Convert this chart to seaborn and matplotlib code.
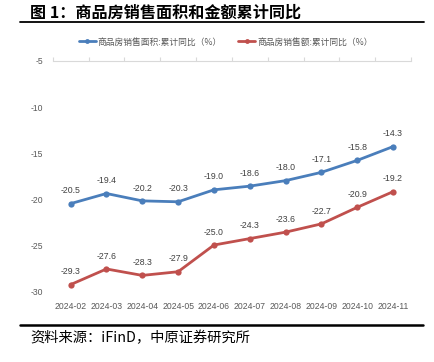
import pandas as pd
import matplotlib.pyplot as plt
import seaborn as sns

months = ['2024-02', '2024-03', '2024-04', '2024-05', '2024-06',
          '2024-07', '2024-08', '2024-09', '2024-10', '2024-11']
area_yoy = [-20.5, -19.4, -20.2, -20.3, -19.0, -18.6, -18.0, -17.1, -15.8, -14.3]
sales_yoy = [-29.3, -27.6, -28.3, -27.9, -25.0, -24.3, -23.6, -22.7, -20.9, -19.2]
series_names = ['商品房销售面积:累计同比（%）', '商品房销售额:累计同比（%）']
colors = ['#4A7EBB', '#C0504D']

NUM_FONT = ['Liberation Sans', 'DejaVu Sans']


def main():
    df = pd.DataFrame({
        'month': months * 2,
        'x': list(range(len(months))) * 2,
        'value': area_yoy + sales_yoy,
        'series': [series_names[0]] * len(months) + [series_names[1]] * len(months),
    })

    sns.set_theme(style="white")
    plt.rcParams['font.family'] = ['Noto Sans CJK SC', 'DejaVu Sans']

    fig = plt.figure(figsize=(4.34, 3.62), dpi=100)
    ax = fig.add_axes([0.1214, 0.196, 0.8256, 0.6355])

    sns.lineplot(data=df, x='x', y='value', hue='series', palette=colors,
                 marker='o', markersize=4.5, markeredgewidth=0, linewidth=2,
                 ax=ax, legend=False)

    # data labels
    for vals in [area_yoy, sales_yoy]:
        for i, v in enumerate(vals):
            ax.annotate(f'{v:.1f}', (i, v), xytext=(0, 6), textcoords='offset points',
                        ha='center', va='bottom', fontsize=6.3, color='#404040',
                        family=NUM_FONT)

    ax.set_xlim(-0.5, len(months) - 0.5)
    ax.set_ylim(-30, -5)
    ax.set_yticks([-30, -25, -20, -15, -10, -5])
    ax.set_yticklabels(['-30', '-25', '-20', '-15', '-10', '-5'])
    ax.set_xticks(range(len(months)))
    ax.set_xticklabels(months)
    ax.tick_params(axis='both', labelsize=6.2, labelcolor='#595959', length=0)
    ax.tick_params(axis='x', pad=8)
    ax.tick_params(axis='y', pad=7)
    for lab in ax.get_xticklabels() + ax.get_yticklabels():
        lab.set_family(NUM_FONT)
    ax.set_xlabel('')
    ax.set_ylabel('')
    for s in ['left', 'right', 'bottom']:
        ax.spines[s].set_visible(False)
    ax.spines['top'].set_color('#D9D9D9')
    ax.spines['top'].set_linewidth(0.8)

    # category tick marks on the top axis
    top = ax.secondary_xaxis('top')
    top.set_xticks([i - 0.5 for i in range(len(months) + 1)])
    top.set_xticklabels([])
    top.tick_params(axis='x', direction='out', length=3, color='#D9D9D9', width=0.8)
    top.spines['top'].set_visible(False)

    # legend
    handles = [plt.Line2D([], [], color=c, marker='o', markersize=3.5, linewidth=2,
                          markeredgewidth=0) for c in colors]
    fig.legend(handles, series_names, loc='center', bbox_to_anchor=(0.52, 0.884),
               ncol=2, frameon=False, fontsize=6.3, handlelength=2.0, handletextpad=0.2,
               columnspacing=1.8, labelcolor='#595959')

    # title, rules, source
    fig.text(0.069, 0.966, '图 1：商品房销售面积和金额累计同比', fontsize=11.6,
             fontweight='bold', ha='left', va='center', color='black')
    fig.add_artist(plt.Line2D([0.046, 0.977], [0.940, 0.940], color='black', linewidth=1.3))
    fig.add_artist(plt.Line2D([0.046, 0.975], [0.102, 0.102], color='black', linewidth=1.8))
    fig.text(0.069, 0.066, '资料来源：iFinD，中原证券研究所', fontsize=10.3,
             ha='left', va='center', color='black')

    fig.savefig('out.png', dpi=100)
    plt.close(fig)


if __name__ == "__main__":
    main()
